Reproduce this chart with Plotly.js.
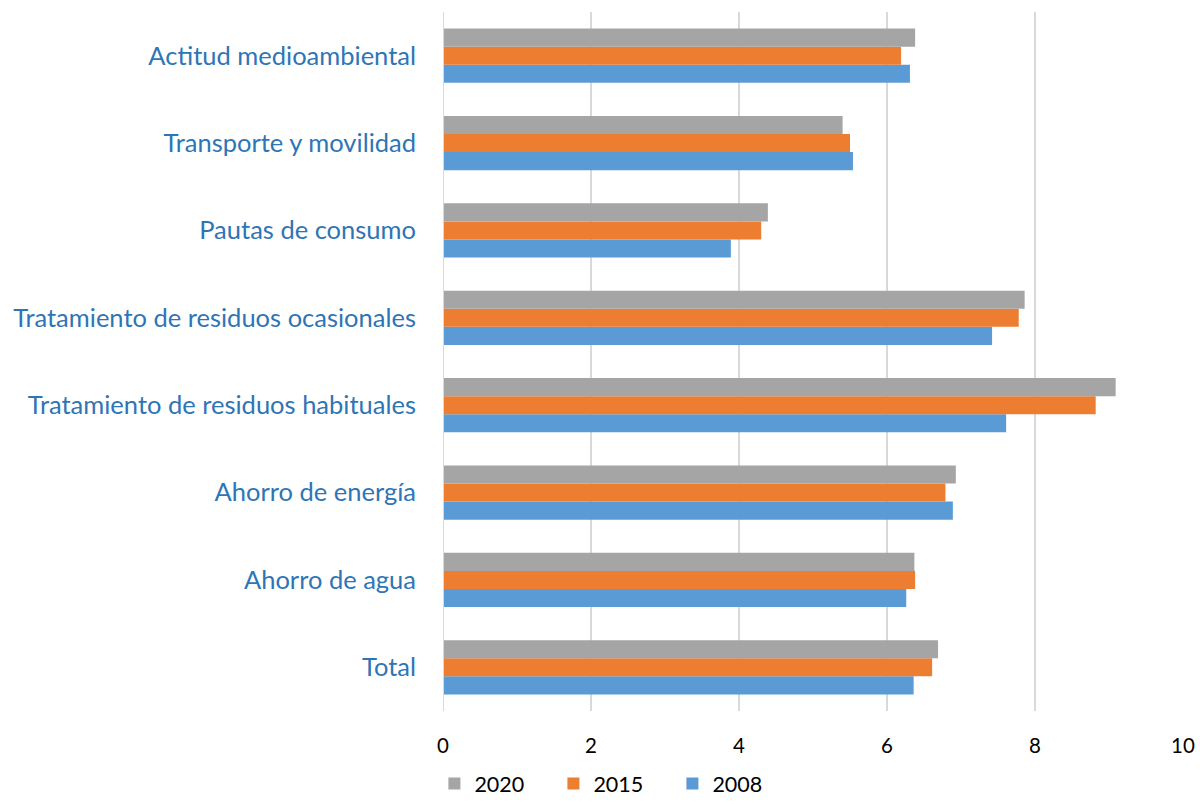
<!DOCTYPE html>
<html>
<head>
<meta charset="utf-8">
<script src="https://cdn.plot.ly/plotly-3.0.1.min.js"></script>
<style>html,body{margin:0;padding:0;background:#fff;}#chart{width:1200px;height:804px;}</style>
</head>
<body>
<div id="chart"></div>
<script>
const categories = ['Total', 'Ahorro de agua', 'Ahorro de energía', 'Tratamiento de residuos habituales', 'Tratamiento de residuos ocasionales', 'Pautas de consumo', 'Transporte y movilidad', 'Actitud medioambiental'];
const values2008 = [6.36, 6.26, 6.89, 7.61, 7.42, 3.89, 5.54, 6.31];
const values2015 = [6.61, 6.38, 6.79, 8.82, 7.78, 4.30, 5.50, 6.19];
const values2020 = [6.69, 6.37, 6.93, 9.09, 7.86, 4.39, 5.40, 6.38];
const xTicks = [0, 2, 4, 6, 8, 10];

const mk = (name, vals, color) => ({
  type: 'bar', orientation: 'h', name: name, x: vals, y: categories,
  marker: {color: color}, hoverinfo: 'x+name'
});
const data = [
  mk('2008', values2008, '#5B9BD5'),
  mk('2015', values2015, '#ED7D31'),
  mk('2020', values2020, '#A5A5A5')
];
const layout = {
  width: 1200, height: 804,
  margin: {l: 443, r: 17, t: 12, b: 93},
  paper_bgcolor: '#fff', plot_bgcolor: '#fff',
  barmode: 'group', bargap: 0.38, bargroupgap: 0,
  font: {family: 'Lato, "Open Sans", sans-serif'},
  xaxis: {
    range: [0, 10], tickvals: xTicks, ticktext: xTicks.map(String),
    showgrid: true, gridcolor: '#D9D9D9', gridwidth: 2,
    zeroline: false, showline: false, automargin: false,
    tickfont: {size: 20.5, color: '#000'}, ticklabelstandoff: 20, fixedrange: true
  },
  yaxis: {
    type: 'category', showgrid: false, zeroline: false, showline: false, automargin: false,
    tickfont: {size: 25.5, color: '#2E75B6'}, ticklabelstandoff: 26, fixedrange: true
  },
  shapes: [{type: 'line', xref: 'x', yref: 'paper', x0: 0, x1: 0, y0: 0, y1: 1, line: {color: '#D9D9D9', width: 2}}],
  showlegend: true,
  legend: {
    orientation: 'h', traceorder: 'reversed',
    xref: 'container', yref: 'container',
    x: 0.362, xanchor: 'left', y: 0, yanchor: 'bottom',
    bgcolor: 'rgba(0,0,0,0)',
    entrywidth: 74, entrywidthmode: 'pixels',
    font: {size: 21.5, color: '#000'}, itemwidth: 30, tracegroupgap: 0
  }
};
Plotly.newPlot('chart', data, layout, {displayModeBar: false, staticPlot: true});
</script>
</body>
</html>
